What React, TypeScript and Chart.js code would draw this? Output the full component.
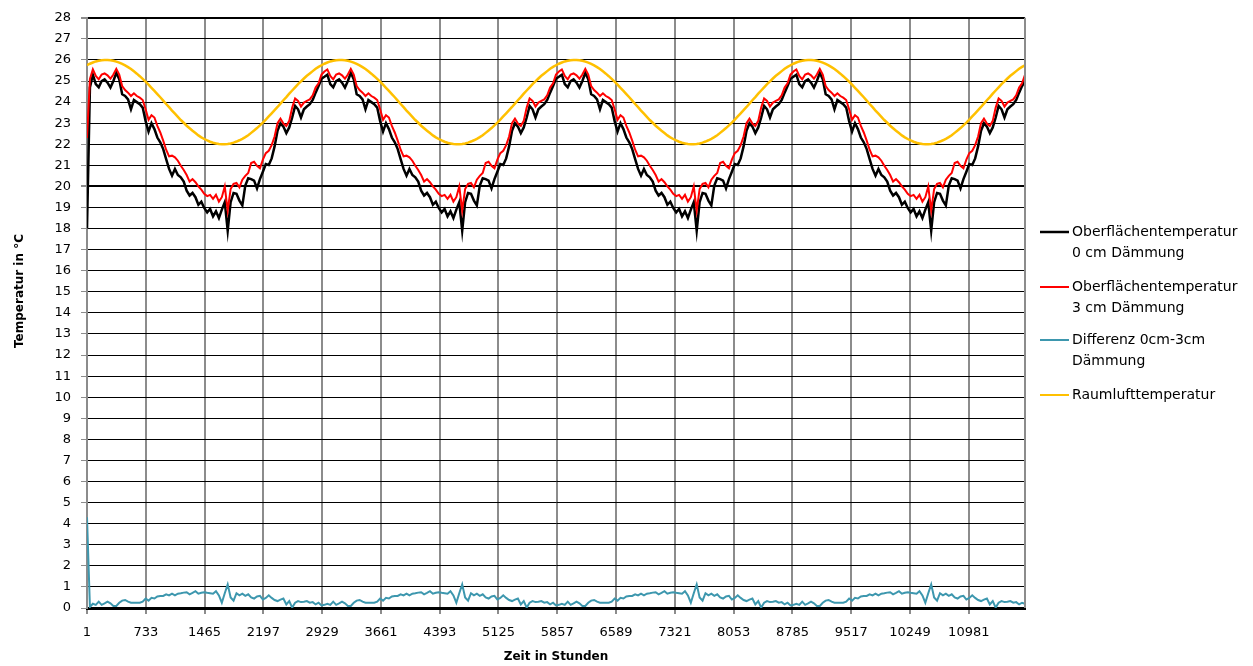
import React, { useEffect, useRef } from "react";
import { Chart, registerables } from "chart.js";

Chart.register(...registerables);

// Sampling grid: one reading every 36.5 hours, hour 1 .. 11681
const STEP_HOURS = 36.5;
const X_TICKS = [1, 733, 1465, 2197, 2929, 3661, 4393, 5125, 5857, 6589, 7321, 8053, 8785, 9517, 10249, 10981];
const Y_MAX = 28;

const SERIES_NAMES = [
  ["Oberflächentemperatur", "0 cm Dämmung"],
  ["Oberflächentemperatur", "3 cm Dämmung"],
  ["Differenz 0cm-3cm", "Dämmung"],
  ["Raumlufttemperatur"],
];

const BLACK_0CM = [
  18.0, 24.7, 25.3, 24.85, 24.7, 25.0, 25.08, 24.92, 24.69, 25.0,
  25.39, 25.08, 24.37, 24.29, 24.13, 23.66, 24.1, 24.0, 23.9, 23.74,
  23.1, 22.6, 23.0, 22.72, 22.32, 22.09, 21.77, 21.3, 20.83, 20.51,
  20.83, 20.54, 20.43, 20.23, 19.8, 19.57, 19.69, 19.49, 19.13, 19.28,
  18.98, 18.77, 18.93, 18.58, 18.82, 18.5, 18.9, 19.25, 17.9, 19.25,
  19.69, 19.65, 19.33, 19.1, 20.04, 20.39, 20.35, 20.28, 19.91, 20.35,
  20.7, 21.06, 21.02, 21.33, 21.9, 22.64, 23.0, 22.84, 22.53, 22.8,
  23.27, 23.82, 23.66, 23.27, 23.66, 23.79, 23.9, 24.1, 24.45, 24.76,
  25.11, 25.2, 25.3, 24.85, 24.7, 25.0, 25.08, 24.92, 24.69, 25.0,
  25.39, 25.08, 24.37, 24.29, 24.13, 23.66, 24.1, 24.0, 23.9, 23.74,
  23.1, 22.6, 23.0, 22.72, 22.32, 22.09, 21.77, 21.3, 20.83, 20.51,
  20.83, 20.54, 20.43, 20.23, 19.8, 19.57, 19.69, 19.49, 19.13, 19.28,
  18.98, 18.77, 18.93, 18.58, 18.82, 18.5, 18.9, 19.25, 17.9, 19.25,
  19.69, 19.65, 19.33, 19.1, 20.04, 20.39, 20.35, 20.28, 19.91, 20.35,
  20.7, 21.06, 21.02, 21.33, 21.9, 22.64, 23.0, 22.84, 22.53, 22.8,
  23.27, 23.82, 23.66, 23.27, 23.66, 23.79, 23.9, 24.1, 24.45, 24.76,
  25.11, 25.2, 25.3, 24.85, 24.7, 25.0, 25.08, 24.92, 24.69, 25.0,
  25.39, 25.08, 24.37, 24.29, 24.13, 23.66, 24.1, 24.0, 23.9, 23.74,
  23.1, 22.6, 23.0, 22.72, 22.32, 22.09, 21.77, 21.3, 20.83, 20.51,
  20.83, 20.54, 20.43, 20.23, 19.8, 19.57, 19.69, 19.49, 19.13, 19.28,
  18.98, 18.77, 18.93, 18.58, 18.82, 18.5, 18.9, 19.25, 17.9, 19.25,
  19.69, 19.65, 19.33, 19.1, 20.04, 20.39, 20.35, 20.28, 19.91, 20.35,
  20.7, 21.06, 21.02, 21.33, 21.9, 22.64, 23.0, 22.84, 22.53, 22.8,
  23.27, 23.82, 23.66, 23.27, 23.66, 23.79, 23.9, 24.1, 24.45, 24.76,
  25.11, 25.2, 25.3, 24.85, 24.7, 25.0, 25.08, 24.92, 24.69, 25.0,
  25.39, 25.08, 24.37, 24.29, 24.13, 23.66, 24.1, 24.0, 23.9, 23.74,
  23.1, 22.6, 23.0, 22.72, 22.32, 22.09, 21.77, 21.3, 20.83, 20.51,
  20.83, 20.54, 20.43, 20.23, 19.8, 19.57, 19.69, 19.49, 19.13, 19.28,
  18.98, 18.77, 18.93, 18.58, 18.82, 18.5, 18.9, 19.25, 17.9, 19.25,
  19.69, 19.65, 19.33, 19.1, 20.04, 20.39, 20.35, 20.28, 19.91, 20.35,
  20.7, 21.06, 21.02, 21.33, 21.9, 22.64, 23.0, 22.84, 22.53, 22.8,
  23.27, 23.82, 23.66, 23.27, 23.66, 23.79, 23.9, 24.1, 24.45, 24.76,
  25.0,
];

const RED_3CM = [
  22.3, 25.1, 25.55, 25.24, 25.08, 25.31, 25.36, 25.27, 25.11, 25.31,
  25.58, 25.31, 24.76, 24.57, 24.45, 24.29, 24.42, 24.29, 24.21, 24.1,
  23.66, 23.16, 23.38, 23.27, 22.87, 22.56, 22.17, 21.74, 21.43, 21.46,
  21.38, 21.22, 20.98, 20.78, 20.54, 20.23, 20.35, 20.2, 20.0, 19.85,
  19.65, 19.54, 19.6, 19.41, 19.6, 19.28, 19.49, 20.0, 18.85, 19.88,
  20.12, 20.17, 19.96, 20.32, 20.5, 20.64, 21.11, 21.17, 20.98, 20.86,
  21.27, 21.58, 21.69, 21.96, 22.37, 23.0, 23.22, 22.98, 22.87, 23.11,
  23.74, 24.17, 24.06, 23.79, 23.98, 24.06, 24.13, 24.32, 24.69, 24.89,
  25.31, 25.45, 25.55, 25.24, 25.08, 25.31, 25.36, 25.27, 25.11, 25.31,
  25.58, 25.31, 24.76, 24.57, 24.45, 24.29, 24.42, 24.29, 24.21, 24.1,
  23.66, 23.16, 23.38, 23.27, 22.87, 22.56, 22.17, 21.74, 21.43, 21.46,
  21.38, 21.22, 20.98, 20.78, 20.54, 20.23, 20.35, 20.2, 20.0, 19.85,
  19.65, 19.54, 19.6, 19.41, 19.6, 19.28, 19.49, 20.0, 18.85, 19.88,
  20.12, 20.17, 19.96, 20.32, 20.5, 20.64, 21.11, 21.17, 20.98, 20.86,
  21.27, 21.58, 21.69, 21.96, 22.37, 23.0, 23.22, 22.98, 22.87, 23.11,
  23.74, 24.17, 24.06, 23.79, 23.98, 24.06, 24.13, 24.32, 24.69, 24.89,
  25.31, 25.45, 25.55, 25.24, 25.08, 25.31, 25.36, 25.27, 25.11, 25.31,
  25.58, 25.31, 24.76, 24.57, 24.45, 24.29, 24.42, 24.29, 24.21, 24.1,
  23.66, 23.16, 23.38, 23.27, 22.87, 22.56, 22.17, 21.74, 21.43, 21.46,
  21.38, 21.22, 20.98, 20.78, 20.54, 20.23, 20.35, 20.2, 20.0, 19.85,
  19.65, 19.54, 19.6, 19.41, 19.6, 19.28, 19.49, 20.0, 18.85, 19.88,
  20.12, 20.17, 19.96, 20.32, 20.5, 20.64, 21.11, 21.17, 20.98, 20.86,
  21.27, 21.58, 21.69, 21.96, 22.37, 23.0, 23.22, 22.98, 22.87, 23.11,
  23.74, 24.17, 24.06, 23.79, 23.98, 24.06, 24.13, 24.32, 24.69, 24.89,
  25.31, 25.45, 25.55, 25.24, 25.08, 25.31, 25.36, 25.27, 25.11, 25.31,
  25.58, 25.31, 24.76, 24.57, 24.45, 24.29, 24.42, 24.29, 24.21, 24.1,
  23.66, 23.16, 23.38, 23.27, 22.87, 22.56, 22.17, 21.74, 21.43, 21.46,
  21.38, 21.22, 20.98, 20.78, 20.54, 20.23, 20.35, 20.2, 20.0, 19.85,
  19.65, 19.54, 19.6, 19.41, 19.6, 19.28, 19.49, 20.0, 18.85, 19.88,
  20.12, 20.17, 19.96, 20.32, 20.5, 20.64, 21.11, 21.17, 20.98, 20.86,
  21.27, 21.58, 21.69, 21.96, 22.37, 23.0, 23.22, 22.98, 22.87, 23.11,
  23.74, 24.17, 24.06, 23.79, 23.98, 24.06, 24.13, 24.32, 24.69, 24.89,
  25.3,
];

const DIFF_0_3 = [
  4.3, 0.05, 0.2, 0.15, 0.3, 0.15, 0.22, 0.3, 0.22, 0.1,
  0.1, 0.25, 0.35, 0.38, 0.3, 0.25, 0.25, 0.25, 0.25, 0.3,
  0.45, 0.35, 0.48, 0.45, 0.55, 0.57, 0.57, 0.65, 0.6, 0.68,
  0.6, 0.68, 0.7, 0.73, 0.75, 0.65, 0.72, 0.8, 0.68, 0.72,
  0.75, 0.72, 0.7, 0.68, 0.8, 0.6, 0.25, 0.7, 1.12, 0.5,
  0.35, 0.7, 0.6, 0.68, 0.58, 0.65, 0.5, 0.45, 0.55, 0.58,
  0.4, 0.48, 0.6, 0.48, 0.38, 0.33, 0.4, 0.45, 0.17, 0.33,
  0.02, 0.25, 0.33, 0.28, 0.3, 0.33, 0.25, 0.28, 0.17, 0.25,
  0.12, 0.15, 0.2, 0.15, 0.3, 0.15, 0.22, 0.3, 0.22, 0.1,
  0.1, 0.25, 0.35, 0.38, 0.3, 0.25, 0.25, 0.25, 0.25, 0.3,
  0.45, 0.35, 0.48, 0.45, 0.55, 0.57, 0.57, 0.65, 0.6, 0.68,
  0.6, 0.68, 0.7, 0.73, 0.75, 0.65, 0.72, 0.8, 0.68, 0.72,
  0.75, 0.72, 0.7, 0.68, 0.8, 0.6, 0.25, 0.7, 1.12, 0.5,
  0.35, 0.7, 0.6, 0.68, 0.58, 0.65, 0.5, 0.45, 0.55, 0.58,
  0.4, 0.48, 0.6, 0.48, 0.38, 0.33, 0.4, 0.45, 0.17, 0.33,
  0.02, 0.25, 0.33, 0.28, 0.3, 0.33, 0.25, 0.28, 0.17, 0.25,
  0.12, 0.15, 0.2, 0.15, 0.3, 0.15, 0.22, 0.3, 0.22, 0.1,
  0.1, 0.25, 0.35, 0.38, 0.3, 0.25, 0.25, 0.25, 0.25, 0.3,
  0.45, 0.35, 0.48, 0.45, 0.55, 0.57, 0.57, 0.65, 0.6, 0.68,
  0.6, 0.68, 0.7, 0.73, 0.75, 0.65, 0.72, 0.8, 0.68, 0.72,
  0.75, 0.72, 0.7, 0.68, 0.8, 0.6, 0.25, 0.7, 1.12, 0.5,
  0.35, 0.7, 0.6, 0.68, 0.58, 0.65, 0.5, 0.45, 0.55, 0.58,
  0.4, 0.48, 0.6, 0.48, 0.38, 0.33, 0.4, 0.45, 0.17, 0.33,
  0.02, 0.25, 0.33, 0.28, 0.3, 0.33, 0.25, 0.28, 0.17, 0.25,
  0.12, 0.15, 0.2, 0.15, 0.3, 0.15, 0.22, 0.3, 0.22, 0.1,
  0.1, 0.25, 0.35, 0.38, 0.3, 0.25, 0.25, 0.25, 0.25, 0.3,
  0.45, 0.35, 0.48, 0.45, 0.55, 0.57, 0.57, 0.65, 0.6, 0.68,
  0.6, 0.68, 0.7, 0.73, 0.75, 0.65, 0.72, 0.8, 0.68, 0.72,
  0.75, 0.72, 0.7, 0.68, 0.8, 0.6, 0.25, 0.7, 1.12, 0.5,
  0.35, 0.7, 0.6, 0.68, 0.58, 0.65, 0.5, 0.45, 0.55, 0.58,
  0.4, 0.48, 0.6, 0.48, 0.38, 0.33, 0.4, 0.45, 0.17, 0.33,
  0.02, 0.25, 0.33, 0.28, 0.3, 0.33, 0.25, 0.28, 0.17, 0.25,
  0.2,
];

const ROOM_AIR = [
  25.75, 25.82, 25.88, 25.93, 25.96, 25.99, 26.0, 26.0, 25.99, 25.96,
  25.92, 25.87, 25.81, 25.74, 25.66, 25.57, 25.46, 25.35, 25.23, 25.1,
  24.97, 24.83, 24.68, 24.53, 24.38, 24.23, 24.07, 23.91, 23.76, 23.6,
  23.45, 23.3, 23.15, 23.02, 22.88, 22.76, 22.64, 22.53, 22.42, 22.33,
  22.25, 22.18, 22.12, 22.07, 22.04, 22.01, 22.0, 22.0, 22.01, 22.04,
  22.08, 22.13, 22.19, 22.26, 22.34, 22.43, 22.54, 22.65, 22.77, 22.9,
  23.03, 23.17, 23.32, 23.47, 23.62, 23.77, 23.93, 24.09, 24.24, 24.4,
  24.55, 24.7, 24.85, 24.98, 25.12, 25.25, 25.36, 25.47, 25.58, 25.67,
  25.75, 25.82, 25.88, 25.93, 25.96, 25.99, 26.0, 26.0, 25.99, 25.96,
  25.92, 25.87, 25.81, 25.74, 25.66, 25.57, 25.46, 25.35, 25.23, 25.1,
  24.97, 24.83, 24.68, 24.53, 24.38, 24.23, 24.07, 23.91, 23.76, 23.6,
  23.45, 23.3, 23.15, 23.02, 22.88, 22.76, 22.64, 22.53, 22.42, 22.33,
  22.25, 22.18, 22.12, 22.07, 22.04, 22.01, 22.0, 22.0, 22.01, 22.04,
  22.08, 22.13, 22.19, 22.26, 22.34, 22.43, 22.54, 22.65, 22.77, 22.9,
  23.03, 23.17, 23.32, 23.47, 23.62, 23.77, 23.93, 24.09, 24.24, 24.4,
  24.55, 24.7, 24.85, 24.98, 25.12, 25.25, 25.36, 25.47, 25.58, 25.67,
  25.75, 25.82, 25.88, 25.93, 25.96, 25.99, 26.0, 26.0, 25.99, 25.96,
  25.92, 25.87, 25.81, 25.74, 25.66, 25.57, 25.46, 25.35, 25.23, 25.1,
  24.97, 24.83, 24.68, 24.53, 24.38, 24.23, 24.07, 23.91, 23.76, 23.6,
  23.45, 23.3, 23.15, 23.02, 22.88, 22.76, 22.64, 22.53, 22.42, 22.33,
  22.25, 22.18, 22.12, 22.07, 22.04, 22.01, 22.0, 22.0, 22.01, 22.04,
  22.08, 22.13, 22.19, 22.26, 22.34, 22.43, 22.54, 22.65, 22.77, 22.9,
  23.03, 23.17, 23.32, 23.47, 23.62, 23.77, 23.93, 24.09, 24.24, 24.4,
  24.55, 24.7, 24.85, 24.98, 25.12, 25.25, 25.36, 25.47, 25.58, 25.67,
  25.75, 25.82, 25.88, 25.93, 25.96, 25.99, 26.0, 26.0, 25.99, 25.96,
  25.92, 25.87, 25.81, 25.74, 25.66, 25.57, 25.46, 25.35, 25.23, 25.1,
  24.97, 24.83, 24.68, 24.53, 24.38, 24.23, 24.07, 23.91, 23.76, 23.6,
  23.45, 23.3, 23.15, 23.02, 22.88, 22.76, 22.64, 22.53, 22.42, 22.33,
  22.25, 22.18, 22.12, 22.07, 22.04, 22.01, 22.0, 22.0, 22.01, 22.04,
  22.08, 22.13, 22.19, 22.26, 22.34, 22.43, 22.54, 22.65, 22.77, 22.9,
  23.03, 23.17, 23.32, 23.47, 23.62, 23.77, 23.93, 24.09, 24.24, 24.4,
  24.55, 24.7, 24.85, 24.98, 25.12, 25.25, 25.36, 25.47, 25.58, 25.67,
  25.75,
];

const COLORS = ["#000000", "#ff0000", "#3d97ae", "#ffc000"];
const FONT = "'DejaVu Sans', sans-serif";

const toPoints = (vals: number[]) => vals.map((v, i) => ({ x: 1 + i * STEP_HOURS, y: v }));

const extrasPlugin = {
  id: "extras",
  afterDraw(chart: any) {
    const ctx = chart.ctx;
    const area = chart.chartArea;
    ctx.save();
    // right border of plot
    ctx.strokeStyle = "#8c8c8c";
    ctx.lineWidth = 2;
    ctx.beginPath();
    ctx.moveTo(area.right, area.top);
    ctx.lineTo(area.right, area.bottom);
    ctx.stroke();

    // y axis title
    ctx.fillStyle = "#000";
    ctx.font = `bold 12px ${FONT}`;
    ctx.textAlign = "center";
    ctx.textBaseline = "middle";
    ctx.translate(20, 291);
    ctx.rotate(-Math.PI / 2);
    ctx.fillText("Temperatur in °C", 0, 0);
    ctx.restore();

    // legend
    ctx.save();
    const ys = [232, 287, 340, 395];
    ctx.font = `14px ${FONT}`;
    ctx.textAlign = "left";
    ctx.textBaseline = "middle";
    SERIES_NAMES.forEach((lines, i) => {
      const y = ys[i];
      ctx.strokeStyle = COLORS[i];
      ctx.lineWidth = i === 0 ? 2.5 : 2;
      ctx.beginPath();
      ctx.moveTo(1040, y);
      ctx.lineTo(1069, y);
      ctx.stroke();
      ctx.fillStyle = "#000";
      lines.forEach((t, j) => ctx.fillText(t, 1072, y + j * 21));
    });
    ctx.restore();
  },
};

export default function App() {
  const canvasRef = useRef<HTMLCanvasElement | null>(null);

  useEffect(() => {
    document.body.style.margin = "0";
    const canvas = canvasRef.current;
    if (!canvas) return;
    const chart = new Chart(canvas, {
      type: "line",
      data: {
        datasets: [
          { label: SERIES_NAMES[0].join(" "), data: toPoints(BLACK_0CM), borderColor: COLORS[0], borderWidth: 2.5, order: 3 },
          { label: SERIES_NAMES[1].join(" "), data: toPoints(RED_3CM), borderColor: COLORS[1], borderWidth: 2, order: 2 },
          { label: SERIES_NAMES[2].join(" "), data: toPoints(DIFF_0_3), borderColor: COLORS[2], borderWidth: 2, order: 1 },
          { label: SERIES_NAMES[3][0], data: toPoints(ROOM_AIR), borderColor: COLORS[3], borderWidth: 2.5, order: 0 },
        ],
      },
      options: {
        responsive: false,
        animation: false,
        devicePixelRatio: 1,
        layout: { padding: { top: 14, right: 228, left: 0, bottom: 0 } },
        elements: { point: { radius: 0 }, line: { tension: 0 } },
        plugins: { legend: { display: false }, tooltip: { enabled: false } },
        scales: {
          x: {
            type: "linear",
            min: 1,
            max: 1 + (BLACK_0CM.length - 1) * STEP_HOURS,
            afterBuildTicks: (scale: any) => {
              scale.ticks = X_TICKS.map((v) => ({ value: v }));
            },
            afterFit: (scale: any) => {
              scale.height = 58;
            },
            ticks: {
              autoSkip: false,
              maxRotation: 0,
              padding: 11,
              color: "#000",
              font: { family: FONT, size: 13 },
              callback: (v: any) => String(v),
            },
            grid: { color: "#8c8c8c", lineWidth: 2, tickLength: 6 },
            border: { color: "#000", width: 3 },
            title: {
              display: true,
              text: "Zeit in Stunden",
              color: "#000",
              font: { family: FONT, size: 12, weight: "bold" },
              padding: { top: 2, bottom: 2 },
            },
          },
          y: {
            min: 0,
            max: Y_MAX,
            afterFit: (scale: any) => {
              scale.width = 87;
            },
            ticks: {
              stepSize: 1,
              padding: 10,
              color: "#000",
              font: { family: FONT, size: 13 },
            },
            grid: {
              color: "#000",
              lineWidth: (c: any) => (c.tick && (c.tick.value === 20 || c.tick.value === 28) ? 2 : 1),
              tickLength: 6,
              tickColor: "#8c8c8c",
            },
            border: { color: "#8c8c8c", width: 2 },
          },
        },
      },
      plugins: [extrasPlugin],
    });
    return () => chart.destroy();
  }, []);

  return (
    <div style={{ width: 1253, height: 666, background: "#fff" }}>
      <canvas ref={canvasRef} width={1253} height={666} />
    </div>
  );
}
